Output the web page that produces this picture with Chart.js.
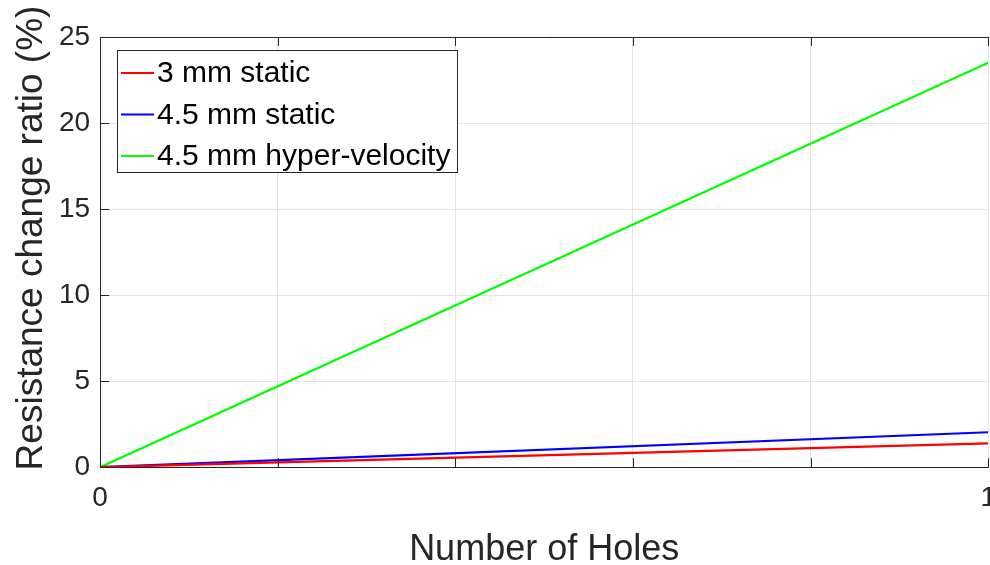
<!DOCTYPE html>
<html>
<head>
<meta charset="utf-8">
<script src="https://cdn.jsdelivr.net/npm/chart.js@4"></script>
<style>
  html, body { margin: 0; padding: 0; background: #fff; overflow: hidden; }
  #wrap { width: 1010px; height: 565px; }
</style>
</head>
<body>
<div id="wrap"><canvas id="myChart" width="1010" height="565"></canvas></div>
<script>
// number of holes (normalised) and the resistance change at each end
let holes = [0, 1];
let static3mm = [0, 1.38];
let static45mm = [0, 2.03];
let hyper45mm = [0, 23.5];

let seriesNames = ["3 mm static", "4.5 mm static", "4.5 mm hyper-velocity"];
let seriesColors = ["#ff0000", "#0000ff", "#00ff00"];
let xTickLabels = [0, 1];
let yTitle = "Resistance change ratio (%)";

function toPoints(ys) {
    return holes.map((x, i) => ({ x: x, y: ys[i] }));
}

const font = "'Liberation Sans', Arial, sans-serif";

// boxed legend in the upper left, y title, inward tick marks and top border
const boxLegend = {
    id: 'boxLegend',
    afterDraw(chart) {
        const ctx = chart.ctx;
        const area = chart.chartArea;
        const xs = chart.scales.x;
        const ys = chart.scales.y;
        ctx.save();
        // frame top line
        ctx.strokeStyle = '#262626';
        ctx.lineWidth = 1;
        ctx.beginPath();
        ctx.moveTo(area.left, area.top + 0.5);
        ctx.lineTo(area.right, area.top + 0.5);
        ctx.stroke();
        // inward ticks
        ctx.beginPath();
        ys.ticks.forEach(t => {
            const y = Math.round(ys.getPixelForValue(t.value)) + 0.5;
            ctx.moveTo(area.left, y);
            ctx.lineTo(area.left + 9, y);
        });
        xs.ticks.forEach(t => {
            const x = Math.round(xs.getPixelForValue(t.value)) + 0.5;
            ctx.moveTo(x, area.bottom);
            ctx.lineTo(x, area.bottom - 9);
            ctx.moveTo(x, area.top);
            ctx.lineTo(x, area.top + 9);
        });
        ctx.stroke();

        // y axis title, sits a little above the axis middle
        ctx.save();
        ctx.translate(42, 238);
        ctx.rotate(-Math.PI / 2);
        ctx.font = '37px ' + font;
        ctx.fillStyle = '#262626';
        ctx.textAlign = 'center';
        ctx.textBaseline = 'alphabetic';
        ctx.fillText(yTitle, 0, 0);
        ctx.restore();

        // legend
        const bx = 117.5, by = 50.5, bw = 340, bh = 122;
        ctx.fillStyle = '#fff';
        ctx.fillRect(bx, by, bw, bh);
        ctx.strokeStyle = '#262626';
        ctx.strokeRect(bx, by, bw, bh);
        ctx.font = '30px ' + font;
        ctx.textBaseline = 'middle';
        chart.data.datasets.forEach((ds, i) => {
            const y = 73 + i * 41.5;
            ctx.strokeStyle = ds.borderColor;
            ctx.lineWidth = 2;
            ctx.beginPath();
            ctx.moveTo(121, y);
            ctx.lineTo(154, y);
            ctx.stroke();
            ctx.fillStyle = '#000';
            ctx.fillText(ds.label, 157, y + 1);
        });
        ctx.restore();
    }
};

const ctx = document.getElementById('myChart').getContext('2d');
const myChart = new Chart(ctx, {
    type: 'line',
    data: {
        datasets: [
            { label: seriesNames[0], data: toPoints(static3mm), borderColor: seriesColors[0] },
            { label: seriesNames[1], data: toPoints(static45mm), borderColor: seriesColors[1] },
            { label: seriesNames[2], data: toPoints(hyper45mm), borderColor: seriesColors[2] }
        ]
    },
    options: {
        responsive: false,
        animation: false,
        layout: { padding: { top: 37, right: 20, left: 49, bottom: 0 } },
        elements: {
            point: { radius: 0 },
            line: { borderWidth: 2.2, tension: 0 }
        },
        plugins: {
            legend: { display: false },
            tooltip: { enabled: false }
        },
        scales: {
            x: {
                type: 'linear',
                min: 0,
                max: 1,
                ticks: {
                    stepSize: 0.2,
                    color: '#262626',
                    font: { family: font, size: 28 },
                    maxRotation: 0,
                    padding: 14,
                    callback: (v) => xTickLabels.includes(Math.round(v * 1000) / 1000) ? Math.round(v) : ''
                },
                grid: { color: '#e3e3e3', drawTicks: false },
                border: { color: '#262626', width: 1 },
                title: {
                    display: true,
                    text: 'Number of Holes',
                    color: '#262626',
                    font: { family: font, size: 36 },
                    padding: { top: 0, bottom: -7 }
                }
            },
            y: {
                min: 0,
                max: 25,
                ticks: {
                    stepSize: 5,
                    color: '#262626',
                    font: { family: font, size: 28 },
                    padding: 10
                },
                grid: { color: '#e3e3e3', drawTicks: false },
                border: { color: '#262626', width: 1 },
                title: { display: false }
            }
        }
    },
    plugins: [boxLegend]
});
</script>
</body>
</html>
